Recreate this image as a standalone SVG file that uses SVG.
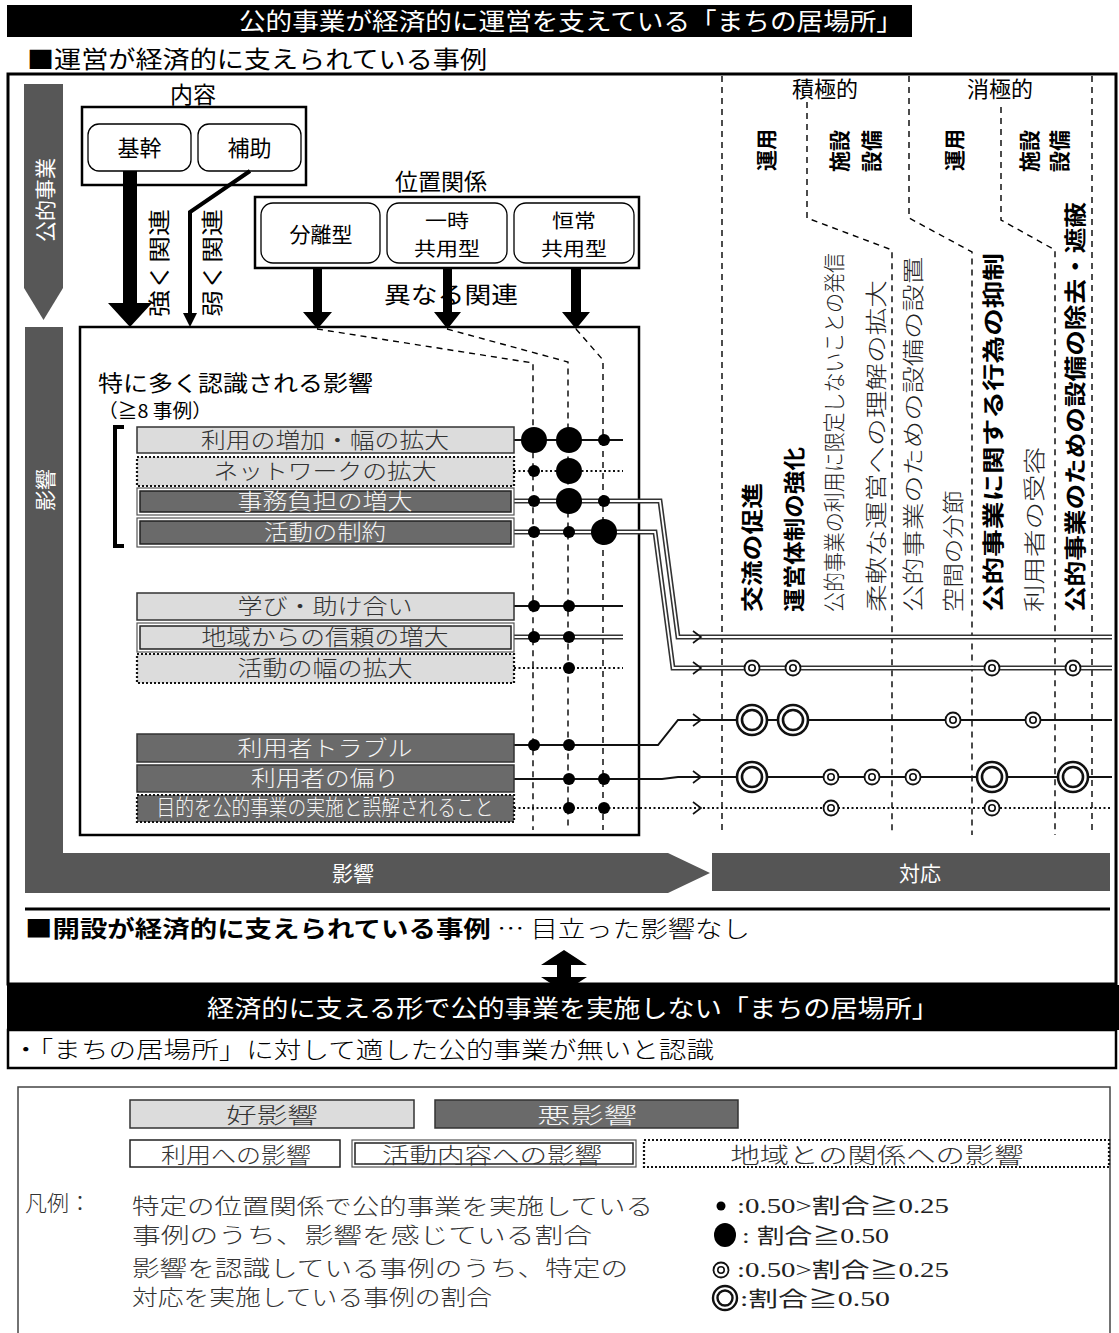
<svg xmlns="http://www.w3.org/2000/svg" width="1119" height="1333" viewBox="0 0 1119 1333">
<style>
text{font-family:"Noto Sans CJK JP","Noto Sans CJK SC",sans-serif;}
.ser{font-family:"Liberation Serif","Noto Sans CJK JP",serif;}
.wt{fill:#fff}
.pill{fill:#fff;stroke:#000;stroke-width:1.3}
.box{fill:#fff;stroke:#000;stroke-width:2.5}
.lt{fill:#dcdcdc}
.dk{fill:#6a6a6a}
.sb{stroke:#333;stroke-width:1.5}
.dob{stroke:#111;stroke-width:2.2;stroke-dasharray:2 2}
.ob{fill:#fff;stroke:#555;stroke-width:1.2}
.ib{stroke:#222;stroke-width:1.5}
.rt{font-size:22px;fill:#333;font-weight:300}
.rtw{font-size:22px;fill:#f4f4f4;font-weight:300}
.dash{fill:none;stroke:#000;stroke-width:1.4;stroke-dasharray:6 5}
.ln{fill:none;stroke:#111;stroke-width:2}
.dl{fill:none;stroke:#333;stroke-width:5}
.dlw{fill:none;stroke:#fff;stroke-width:1.8}
.dt{fill:none;stroke:#111;stroke-width:2.2;stroke-dasharray:2 2.5}
.chev{fill:none;stroke:#111;stroke-width:1.6}
.gray{fill:#575757}
.blk{fill:#000}
.vlab{font-size:22px;fill:#222;font-weight:300}
.vb{font-size:22px;fill:#000;font-weight:bold}
</style>
<defs>
<g id="bigO"><circle r="15" fill="#fff" stroke="#111" stroke-width="2.6"/><circle r="10" fill="none" stroke="#111" stroke-width="2.6"/></g>
<g id="smO"><circle r="7.5" fill="#fff" stroke="#111" stroke-width="1.8"/><circle r="3.2" fill="none" stroke="#111" stroke-width="1.6"/></g>
</defs>

<!-- header bars -->
<g id="title">
<rect x="7" y="5" width="905" height="32" class="blk"/>
<text x="571" y="30" font-size="24" class="wt" text-anchor="middle" textLength="664" lengthAdjust="spacingAndGlyphs">公的事業が経済的に運営を支えている「まちの居場所」</text>
</g>
<g id="subtitle">
<text x="27" y="68" font-size="24" textLength="460" lengthAdjust="spacingAndGlyphs">■運営が経済的に支えられている事例</text>
</g>
<rect id="mainframe" x="8" y="74" width="1108" height="910" fill="none" stroke="#000" stroke-width="3"/>

<!-- side arrows -->
<g id="arrow-kouteki">
<polygon class="gray" points="24,84 63,84 63,288 43.5,320 24,288"/>
<text transform="translate(43.5,200) rotate(-90)" font-size="21" class="wt" text-anchor="middle" dominant-baseline="central">公的事業</text>
</g>
<g id="arrow-eikyou">
<polygon class="gray" points="25,327 63,327 63,853 668,853 710,873 668,893 25,893"/>
<text transform="translate(44,490) rotate(-90)" font-size="21" class="wt" text-anchor="middle" dominant-baseline="central">影響</text>
<text x="353" y="881" font-size="21" class="wt" text-anchor="middle">影響</text>
</g>
<g id="taiou">
<rect x="712" y="853" width="398" height="38" fill="#555"/>
<text x="920" y="881" font-size="21" class="wt" text-anchor="middle">対応</text>
</g>

<!-- content -->
<g id="naiyou">
<text x="193" y="103" font-size="23" text-anchor="middle">内容</text>
<rect x="82" y="107" width="224" height="78" class="box" stroke-width="2"/>
<rect x="88" y="124" width="103" height="47" rx="11" class="pill"/>
<text x="139.5" y="156" font-size="22" text-anchor="middle">基幹</text>
<rect x="198" y="124" width="103" height="47" rx="11" class="pill"/>
<text x="249.5" y="156" font-size="22" text-anchor="middle">補助</text>
</g>

<g id="ichi">
<text x="441" y="190" font-size="23" text-anchor="middle">位置関係</text>
<rect x="255" y="197" width="384" height="71" class="box" stroke-width="2"/>
<rect x="261" y="203" width="119" height="60" rx="12" class="pill"/>
<text x="321" y="242" font-size="21" text-anchor="middle">分離型</text>
<rect x="387" y="203" width="120" height="60" rx="12" class="pill"/>
<text x="447" y="228" font-size="19" text-anchor="middle" textLength="44" lengthAdjust="spacingAndGlyphs">一時</text>
<text x="447" y="256" font-size="19" text-anchor="middle" textLength="66" lengthAdjust="spacingAndGlyphs">共用型</text>
<rect x="514" y="203" width="120" height="60" rx="12" class="pill"/>
<text x="574" y="228" font-size="19" text-anchor="middle" textLength="44" lengthAdjust="spacingAndGlyphs">恒常</text>
<text x="574" y="256" font-size="19" text-anchor="middle" textLength="66" lengthAdjust="spacingAndGlyphs">共用型</text>
</g>

<!-- impact box -->
<g id="impact">
<rect x="80" y="327" width="559" height="508" fill="#fff" stroke="#000" stroke-width="2.5"/>
<text x="98" y="391" font-size="22" textLength="275" lengthAdjust="spacingAndGlyphs">特に多く認識される影響</text>
<text x="98" y="418" font-size="19" textLength="114" lengthAdjust="spacingAndGlyphs">（≧8 事例）</text>
<path d="M124,427 H115 V546 H124" fill="none" stroke="#000" stroke-width="4"/>
</g>

<!-- connectors -->
<g id="connectors">
<polygon class="blk" points="123,171 137,171 137,303 152,303 130,327 108,303 123,303"/>
<polyline points="250,171 190,212 190,316" fill="none" stroke="#000" stroke-width="4"/>
<polygon class="blk" points="183,313 197,313 190,327"/>
<polygon class="blk" points="313,268 322,268 322,312 332,312 317.5,329 303,312 313,312"/>
<polygon class="blk" points="443,268 452,268 452,312 461,312 447.5,329 434,312 443,312"/>
<polygon class="blk" points="571,268 581,268 581,312 590,312 576,329 562,312 571,312"/>
<polyline class="dash" points="317,329 533,363 533,830"/>
<polyline class="dash" points="447,329 568,362 568,830"/>
<polyline class="dash" points="576,329 603,360 603,830"/>
<line class="dash" x1="722" y1="76" x2="722" y2="835"/>
<polyline class="dash" points="807,102 807,218 892,250 892,835"/>
<polyline class="dash" points="909,76 909,218 972,252 972,835"/>
<polyline class="dash" points="1001,107 1001,220 1055,250 1055,835"/>
<line class="dash" x1="1092" y1="76" x2="1092" y2="835"/>

<line class="ln" x1="514" y1="440" x2="623" y2="440"/>
<line class="dt" x1="514" y1="471" x2="623" y2="471"/>
<path class="dl" d="M514,501 H660 L678,637 H1112"/>
<path class="dlw" d="M514,501 H660 L678,637 H1112"/>
<path class="dl" d="M514,532 H655 L673,668 H1112"/>
<path class="dlw" d="M514,532 H655 L673,668 H1112"/>
<line class="ln" x1="514" y1="606" x2="623" y2="606"/>
<path class="dl" d="M514,637 H623"/>
<path class="dlw" d="M514,637 H623"/>
<line class="dt" x1="514" y1="668" x2="623" y2="668"/>
<path class="ln" d="M514,745 H658 L678,720 H1112"/>
<path class="ln" d="M514,779 H662 L678,777 H1112"/>
<line class="dt" x1="514" y1="808" x2="1112" y2="808"/>
<path class="chev" d="M693,631 L701,637 L693,643"/>
<path class="chev" d="M693,662 L701,668 L693,674"/>
<path class="chev" d="M693,714 L701,720 L693,726"/>
<path class="chev" d="M693,771 L701,777 L693,783"/>
<path class="chev" d="M693,802 L701,808 L693,814"/>

<g fill="#000">
<circle cx="534" cy="440" r="13"/><circle cx="569" cy="440" r="13"/><circle cx="604" cy="440" r="6"/>
<circle cx="534" cy="471" r="6"/><circle cx="569" cy="471" r="13"/>
<circle cx="534" cy="501" r="6"/><circle cx="569" cy="501" r="13"/><circle cx="604" cy="501" r="6"/>
<circle cx="534" cy="532" r="6"/><circle cx="569" cy="532" r="6"/><circle cx="604" cy="532" r="13"/>
<circle cx="534" cy="606" r="6"/><circle cx="569" cy="606" r="6"/>
<circle cx="534" cy="637" r="6"/><circle cx="569" cy="637" r="6"/>
<circle cx="569" cy="668" r="6"/>
<circle cx="534" cy="745" r="6"/><circle cx="569" cy="745" r="6"/>
<circle cx="569" cy="779" r="6"/><circle cx="604" cy="779" r="6"/>
<circle cx="569" cy="808" r="6"/><circle cx="604" cy="808" r="6"/>
</g>
<use href="#smO" x="752" y="668"/><use href="#smO" x="793" y="668"/><use href="#smO" x="992" y="668"/><use href="#smO" x="1073" y="668"/>
<use href="#bigO" x="752" y="720"/><use href="#bigO" x="793" y="720"/><use href="#smO" x="953" y="720"/><use href="#smO" x="1033" y="720"/>
<use href="#bigO" x="752" y="777"/><use href="#smO" x="831" y="777"/><use href="#smO" x="872" y="777"/><use href="#smO" x="913" y="777"/><use href="#bigO" x="992" y="777"/><use href="#bigO" x="1073" y="777"/>
<use href="#smO" x="831" y="808"/><use href="#smO" x="992" y="808"/>
</g>

<g id="rel-labels">
<text transform="translate(157,317) rotate(-90)" font-size="22" dominant-baseline="central" textLength="108" lengthAdjust="spacingAndGlyphs">強く関連</text>
<text transform="translate(210,317) rotate(-90)" font-size="22" dominant-baseline="central" textLength="108" lengthAdjust="spacingAndGlyphs">弱く関連</text>
<text x="451" y="303" font-size="23" text-anchor="middle" textLength="134" lengthAdjust="spacingAndGlyphs">異なる関連</text>
</g>

<g id="row-1"><rect x="137" y="427" width="377" height="26" class="lt sb"/><text x="325" y="448" class="rt" text-anchor="middle" textLength="248" lengthAdjust="spacingAndGlyphs">利用の増加・幅の拡大</text></g>
<g id="row-2"><rect x="137" y="457" width="377" height="29" class="lt dob"/><text x="325" y="479" class="rt" text-anchor="middle" textLength="223" lengthAdjust="spacingAndGlyphs">ネットワークの拡大</text></g>
<g id="row-3"><rect x="137" y="488" width="377" height="27" class="ob"/><rect x="140" y="491" width="371" height="21" class="dk ib"/><text x="325" y="509" class="rtw" text-anchor="middle" textLength="175" lengthAdjust="spacingAndGlyphs">事務負担の増大</text></g>
<g id="row-4"><rect x="137" y="518" width="377" height="29" class="ob"/><rect x="140" y="521" width="371" height="23" class="dk ib"/><text x="325" y="540" class="rtw" text-anchor="middle" textLength="122" lengthAdjust="spacingAndGlyphs">活動の制約</text></g>
<g id="row-5"><rect x="137" y="593" width="377" height="27" class="lt sb"/><text x="325" y="614" class="rt" text-anchor="middle" textLength="175" lengthAdjust="spacingAndGlyphs">学び・助け合い</text></g>
<g id="row-6"><rect x="137" y="623" width="377" height="29" class="ob"/><rect x="140" y="626" width="371" height="23" class="lt ib"/><text x="325" y="645" class="rt" text-anchor="middle" textLength="247" lengthAdjust="spacingAndGlyphs">地域からの信頼の増大</text></g>
<g id="row-7"><rect x="137" y="654" width="377" height="29" class="lt dob"/><text x="325" y="676" class="rt" text-anchor="middle" textLength="175" lengthAdjust="spacingAndGlyphs">活動の幅の拡大</text></g>
<g id="row-8"><rect x="137" y="734" width="377" height="28" class="dk sb"/><text x="325" y="756" class="rtw" text-anchor="middle" textLength="175" lengthAdjust="spacingAndGlyphs">利用者トラブル</text></g>
<g id="row-9"><rect x="137" y="765" width="377" height="27" class="dk sb"/><text x="325" y="786" class="rtw" text-anchor="middle" textLength="148" lengthAdjust="spacingAndGlyphs">利用者の偏り</text></g>
<g id="row-10"><rect x="137" y="795" width="377" height="27" class="dk dob"/><text x="325" y="815" class="rtw" font-size="20" text-anchor="middle" textLength="337" lengthAdjust="spacingAndGlyphs">目的を公的事業の実施と誤解されること</text></g>

<g id="resp-heads">
<text x="825" y="97" font-size="22" text-anchor="middle">積極的</text>
<text x="1000" y="97" font-size="22" text-anchor="middle">消極的</text>
<text transform="translate(765,150) rotate(-90)" font-size="21" text-anchor="middle" dominant-baseline="central" font-weight="bold">運用</text>
<text transform="translate(838,151) rotate(-90)" font-size="21" text-anchor="middle" dominant-baseline="central" font-weight="bold">施設</text>
<text transform="translate(870,151) rotate(-90)" font-size="21" text-anchor="middle" dominant-baseline="central" font-weight="bold">設備</text>
<text transform="translate(953,150) rotate(-90)" font-size="21" text-anchor="middle" dominant-baseline="central" font-weight="bold">運用</text>
<text transform="translate(1028,151) rotate(-90)" font-size="21" text-anchor="middle" dominant-baseline="central" font-weight="bold">施設</text>
<text transform="translate(1058,151) rotate(-90)" font-size="21" text-anchor="middle" dominant-baseline="central" font-weight="bold">設備</text>
</g>
<g id="resp-labels">
<text transform="translate(750,612) rotate(-90)" class="vb" font-size="21" dominant-baseline="central" textLength="129" lengthAdjust="spacingAndGlyphs">交流の促進</text>
<text transform="translate(792,612) rotate(-90)" class="vb" font-size="21" dominant-baseline="central" textLength="165" lengthAdjust="spacingAndGlyphs">運営体制の強化</text>
<text transform="translate(832,612) rotate(-90)" class="vlab" dominant-baseline="central" textLength="359" lengthAdjust="spacingAndGlyphs">公的事業の利用に限定しないことの発信</text>
<text transform="translate(874,612) rotate(-90)" class="vlab" font-size="24" dominant-baseline="central" textLength="332" lengthAdjust="spacingAndGlyphs">柔軟な運営への理解の拡大</text>
<text transform="translate(911,612) rotate(-90)" class="vlab" font-size="24" dominant-baseline="central" textLength="355" lengthAdjust="spacingAndGlyphs">公的事業のための設備の設置</text>
<text transform="translate(951,612) rotate(-90)" class="vlab" font-size="24" dominant-baseline="central" textLength="122" lengthAdjust="spacingAndGlyphs">空間の分節</text>
<text transform="translate(991,612) rotate(-90)" class="vb" font-size="24" dominant-baseline="central" textLength="359" lengthAdjust="spacingAndGlyphs">公的事業に関する行為の抑制</text>
<text transform="translate(1032,612) rotate(-90)" class="vlab" font-size="24" dominant-baseline="central" textLength="165" lengthAdjust="spacingAndGlyphs">利用者の受容</text>
<text transform="translate(1073,612) rotate(-90)" class="vb" font-size="24" dominant-baseline="central" textLength="410" lengthAdjust="spacingAndGlyphs">公的事業のための設備の除去・遮蔽</text>
</g>

<line x1="25" y1="909" x2="1110" y2="909" stroke="#000" stroke-width="3"/>
<g id="kaisetsu">
<text x="25" y="937" font-size="23" textLength="725" lengthAdjust="spacingAndGlyphs"><tspan font-weight="bold">■開設が経済的に支えられている事例</tspan><tspan font-weight="300"> … 目立った影響なし</tspan></text>
</g>
<g id="bottom-bar">
<rect x="7" y="985" width="1112" height="45" class="blk"/>
<text x="573" y="1017" font-size="24" class="wt" text-anchor="middle" textLength="732" lengthAdjust="spacingAndGlyphs">経済的に支える形で公的事業を実施しない「まちの居場所」</text>
<rect x="8" y="1030" width="1108" height="38" fill="#fff" stroke="#000" stroke-width="2.5"/>
<text x="12" y="1058" font-size="23" font-weight="300" textLength="702" lengthAdjust="spacingAndGlyphs">・「まちの居場所」に対して適した公的事業が無いと認識</text>
</g>
<polygon id="double-arrow" class="blk" points="564,950 587,965 571,965 571,977 587,977 564,992 541,977 557,977 557,965 541,965"/>

<g id="legend">
<rect x="18" y="1087" width="1092" height="262" fill="#fff" stroke="#444" stroke-width="1.5"/>
<rect x="130" y="1100" width="284" height="28" class="lt sb"/>
<text x="272" y="1123" class="rt" font-size="24" text-anchor="middle" textLength="92" lengthAdjust="spacingAndGlyphs">好影響</text>
<rect x="435" y="1100" width="303" height="28" class="dk sb"/>
<text x="587" y="1123" class="rtw" font-size="24" text-anchor="middle" textLength="100" lengthAdjust="spacingAndGlyphs">悪影響</text>
<rect x="130" y="1140" width="210" height="27" fill="#fff" stroke="#222" stroke-width="1.5"/>
<text x="236" y="1163" class="rt" font-size="24" text-anchor="middle" textLength="150" lengthAdjust="spacingAndGlyphs">利用への影響</text>
<rect x="352" y="1140" width="284" height="27" class="ob"/>
<rect x="355" y="1143" width="278" height="21" fill="#fff" class="ib"/>
<text x="492" y="1163" class="rt" font-size="24" text-anchor="middle" textLength="220" lengthAdjust="spacingAndGlyphs">活動内容への影響</text>
<rect x="644" y="1140" width="465" height="27" fill="#fff" class="dob"/>
<text x="877" y="1163" class="rt" font-size="24" text-anchor="middle" textLength="293" lengthAdjust="spacingAndGlyphs">地域との関係への影響</text>
<text x="25" y="1211" class="rt" font-size="21">凡例：</text>
<text x="132" y="1214" class="rt" font-size="21" textLength="521" lengthAdjust="spacingAndGlyphs">特定の位置関係で公的事業を実施している</text>
<text x="132" y="1243" class="rt" font-size="21" textLength="460" lengthAdjust="spacingAndGlyphs">事例のうち、影響を感じている割合</text>
<text x="132" y="1276" class="rt" font-size="21" textLength="496" lengthAdjust="spacingAndGlyphs">影響を認識している事例のうち、特定の</text>
<text x="132" y="1305" class="rt" font-size="21" textLength="360" lengthAdjust="spacingAndGlyphs">対応を実施している事例の割合</text>
<circle cx="721" cy="1206" r="4.5" fill="#000"/>
<text x="737" y="1213" class="ser" font-size="21" fill="#222" textLength="212" lengthAdjust="spacingAndGlyphs">:0.50&gt;割合≧0.25</text>
<ellipse cx="725" cy="1235" rx="11" ry="12" fill="#000"/>
<text x="742" y="1243" class="ser" font-size="21" fill="#222" textLength="147" lengthAdjust="spacingAndGlyphs">: 割合≧0.50</text>
<use href="#smO" x="721" y="1270"/>
<text x="737" y="1277" class="ser" font-size="21" fill="#222" textLength="212" lengthAdjust="spacingAndGlyphs">:0.50&gt;割合≧0.25</text>
<circle cx="725" cy="1298" r="12" fill="#fff" stroke="#111" stroke-width="2.4"/>
<circle cx="725" cy="1298" r="7.5" fill="none" stroke="#111" stroke-width="2.4"/>
<text x="740" y="1306" class="ser" font-size="21" fill="#222" textLength="150" lengthAdjust="spacingAndGlyphs">:割合≧0.50</text>
</g>
</svg>
